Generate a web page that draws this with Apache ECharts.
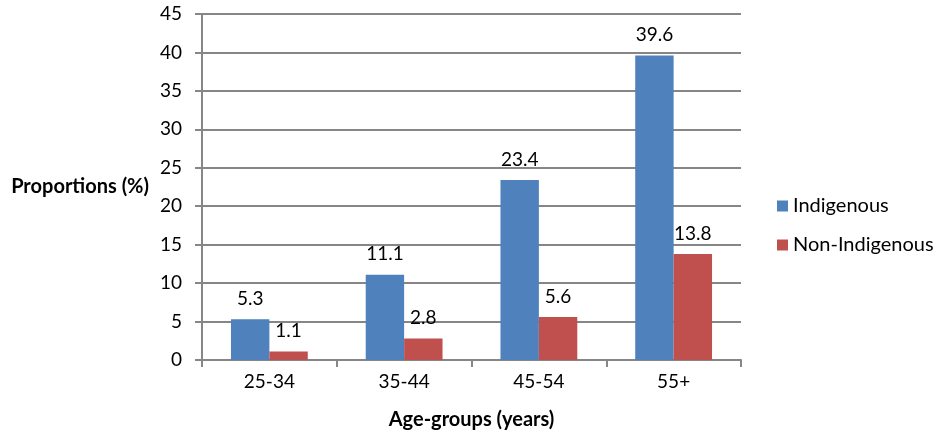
<!DOCTYPE html>
<html><head><meta charset="utf-8">
<script src="https://cdn.jsdelivr.net/npm/echarts@6/dist/echarts.min.js"></script>
<style>html,body{margin:0;padding:0;background:#fff}#c{width:944px;height:442px}</style>
</head><body><div id="c"></div>
<script>
const categories = ['25-34', '35-44', '45-54', '55+'];
const indigenous = [5.3, 11.1, 23.4, 39.6];
const nonIndigenous = [1.1, 2.8, 5.6, 13.8];
const yTicks = { min: 0, max: 45, interval: 5 };

const font = 'Lato, "Open Sans", sans-serif';
const axisColor = '#868686';
const chart = echarts.init(document.getElementById('c'), null, { renderer: 'canvas' });
chart.setOption({
  animation: false,
  textStyle: { fontFamily: font },
  grid: { left: 202, right: 203, top: 14, bottom: 82, containLabel: false },
  legend: {
    orient: 'vertical', left: 772, top: 191, itemWidth: 11, itemHeight: 11, itemGap: 19,
    icon: 'rect',
    textStyle: { fontSize: 20, color: '#000', fontFamily: font },
    data: ['Indigenous', 'Non-Indigenous']
  },
  xAxis: {
    type: 'category', data: categories,
    name: 'Age-groups (years)', nameLocation: 'middle', nameGap: 50,
    nameTextStyle: { fontWeight: 'bold', fontSize: 20, color: '#000', fontFamily: font },
    axisLine: { lineStyle: { color: axisColor, width: 2 } },
    axisTick: { show: true, length: 7, lineStyle: { color: axisColor, width: 2 } },
    axisLabel: { fontSize: 19, color: '#000', margin: 12 }
  },
  yAxis: {
    type: 'value', min: yTicks.min, max: yTicks.max, interval: yTicks.interval,
    name: 'Proportions (%)', nameLocation: 'middle', nameRotate: 0, nameGap: 53,
    nameTextStyle: { fontWeight: 'bold', fontSize: 20, color: '#000', fontFamily: font, align: 'right', verticalAlign: 'middle', padding: [9, 0, 0, 0] },
    axisLine: { show: true, lineStyle: { color: axisColor, width: 2 } },
    axisTick: { show: true, length: 7, lineStyle: { color: axisColor, width: 2 } },
    axisLabel: { fontSize: 19, color: '#000', margin: 20 },
    splitLine: { lineStyle: { color: axisColor, width: 2 } }
  },
  series: [
    { name: 'Indigenous', type: 'bar', data: indigenous, barGap: '0%', barCategoryGap: '43%',
      itemStyle: { color: '#4F81BD' },
      label: { show: true, position: 'top', distance: 11, fontSize: 19, color: '#000', fontFamily: font } },
    { name: 'Non-Indigenous', type: 'bar', data: nonIndigenous, barGap: '0%', barCategoryGap: '43%',
      itemStyle: { color: '#C0504D' },
      label: { show: true, position: 'top', distance: 11, fontSize: 19, color: '#000', fontFamily: font } }
  ]
});
</script></body></html>
